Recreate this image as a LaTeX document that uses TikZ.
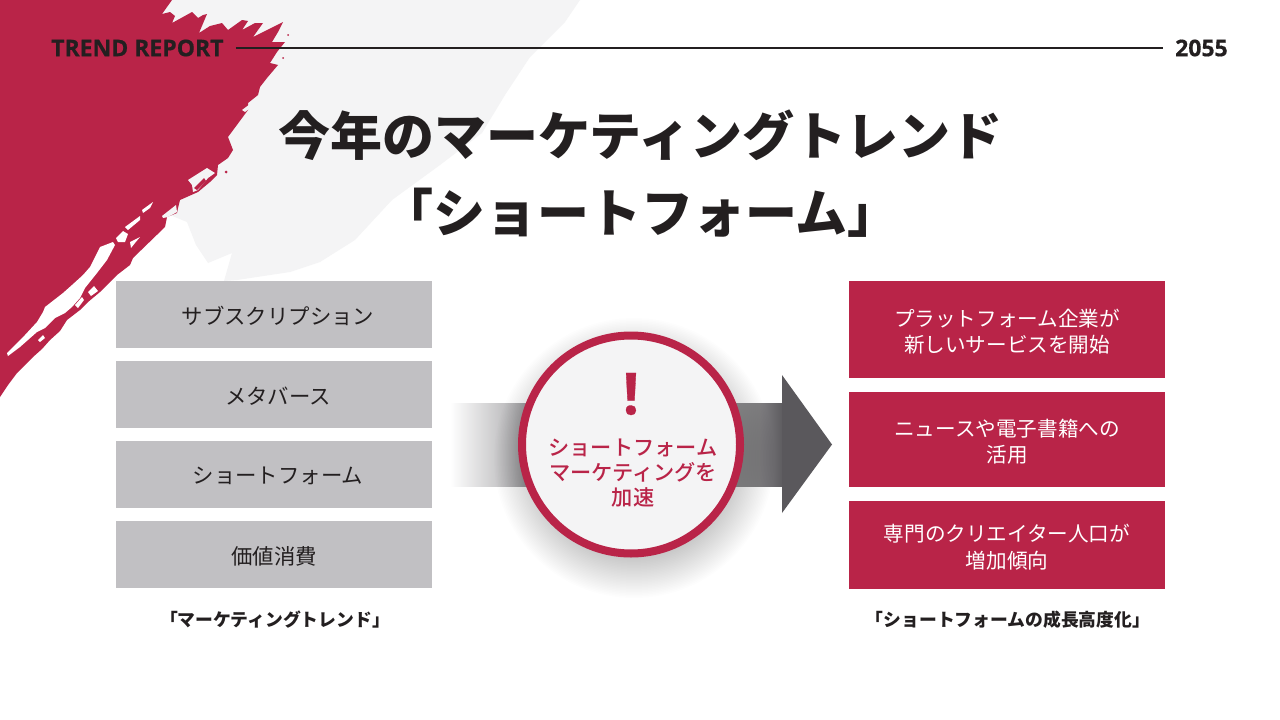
\documentclass[tikz,border=0pt]{standalone}
\usepackage{fontspec}
\newfontfamily\jp{Noto Sans CJK JP}
\newfontfamily\jpm{Noto Sans CJK JP Medium}
\newfontfamily\os[BoldFeatures={FakeBold=0.5}]{Open Sans}
\definecolor{brand}{HTML}{B92448}
\definecolor{ink}{HTML}{231F20}
\definecolor{graybox}{HTML}{C1C0C3}
\definecolor{brush}{HTML}{F4F4F5}
\definecolor{arrowdark}{HTML}{5A585C}
\tikzset{
  graycell/.style={fill=graybox,draw=none,minimum width=316pt,minimum height=67pt,inner sep=0pt},
  graylabel/.style={text=ink,inner sep=0pt,yshift=-1.5pt,font=\jp\fontsize{21.4}{26}\selectfont},
  redcell/.style={fill=brand,draw=none,minimum width=316pt,inner sep=0pt},
  redlabel/.style={text=white,align=center,inner sep=0pt,yshift=-2pt,font=\jp\fontsize{20.6}{26.5}\selectfont},
  caption/.style={text=ink,font=\jp\bfseries\fontsize{17.8}{22}\selectfont,inner sep=0pt},
  titletext/.style={text=ink,align=center,inner sep=0pt,font=\jp\bfseries\fontsize{52}{77}\selectfont},
  headertext/.style={text=ink,font=\os\bfseries\fontsize{23}{28}\selectfont,inner ysep=0pt,inner xsep=12pt},
  gap/.style={fill=brush,draw=none},
  hole/.style={fill=white,draw=none}
}
\begin{document}
\begin{tikzpicture}[x=1pt,y=-1pt]
\useasboundingbox (0,0) rectangle (1280,720);
\fill[white] (0,0) rectangle (1280,720);
% light brush stroke
\fill[brush] (160,0) -- (580,0) -- (565,22) -- (530,57) -- (505,95) -- (482,133) -- (440,165) -- (392,200) -- (355,240) -- (320,262) -- (290,272) -- (237,280) -- (224,281) -- (232,253) -- (208,263) -- (196,245) -- (187,222) -- (170,215) -- cycle;
% red brush stroke
\fill[brand] (0,0) -- (172,0) -- (162,14) -- (170,12) -- (175,16) -- (172,23) -- (183,17) -- (192,12) -- (198,18) -- (203,15) -- (207,14) -- (199,33) -- (210,26) -- (222,23) -- (228,30) -- (242,20) -- (248,21) -- (242,30) -- (255,23) -- (263,23) -- (253,37) -- (267,30) -- (283,22) -- (278,32) -- (272,42) -- (285,42) -- (277,52) -- (270,63) -- (278,65) -- (267,78) -- (260,87) -- (258,95) -- (248,103) -- (248,110) -- (228,137) -- (233,150) -- (228,158) -- (218,165) -- (217,175) -- (210,182) -- (198,192) -- (180,200) -- (178,208) -- (177,213) -- (167,217) -- (165,227) -- (133,258) -- (130,265) -- (117,275) -- (100,292) -- (88,302) -- (80,310) -- (67,320) -- (60,331) -- (50,340) -- (42,349) -- (33,357) -- (17,373) -- (8,385) -- (0,397) -- cycle;
% gaps in the brush
\fill[gap] (242,110) -- (262,95) -- (257,103) -- (245,112) -- cycle;
\fill[gap] (188,180) -- (207,168) -- (215,173) -- (208,178) -- (198,190) -- (193,192) -- (192,185) -- cycle;
\fill[gap] (162,216) -- (176,205) -- (177,212) -- (168,217) -- (163,218) -- cycle;
\fill[hole] (142,210) -- (153,202) -- (150,208) -- (143,213) -- cycle;
\fill[hole] (125,227) -- (140,216) -- (140,220) -- (128,230) -- cycle;
\fill[hole] (116,238) -- (123,231) -- (128,234) -- (125,242) -- (118,242) -- cycle;
\fill[hole] (130,242) -- (140,237) -- (135,243) -- (131,248) -- cycle;
\fill[hole] (100,247) -- (113,242) -- (115,245) -- (107,260) -- (97,273) -- (85,288) -- (80,298) -- (72,307) -- (65,313) -- (55,318) -- (45,328) -- (37,332) -- (20,347) -- (8,356) -- (7,353) -- (15,345) -- (25,335) -- (37,322) -- (43,312) -- (45,307) -- (63,293) -- (72,285) -- (83,275) -- (90,267) -- cycle;
\fill[hole] (75,305) -- (82,297) -- (84,300) -- (78,308) -- cycle;
\fill[hole] (88,292) -- (94,286) -- (98,291) -- (91,296) -- cycle;
\fill[hole] (38,340) -- (43,335) -- (45,338) -- (40,342) -- cycle;
\fill[brand] (194,188) -- (204,178) -- (206,181) -- (197,190) -- cycle;
\fill[brand] (226,172) circle (1.5);
\fill[brand] (288,35) circle (1);
\fill[brand] (283,58) circle (1);
% header
\node[headertext,anchor=west] (trend) at (39,48) {TREND REPORT};
\node[headertext,anchor=west] (year) at (1163,48) {2055};
\draw[ink,line width=1.8pt] (trend.east) -- (year.west);
% title
\node[titletext] (title) at (640.5,173.5) {今年のマーケティングトレンド\\「ショートフォーム」};
% left column
\node[graycell] (a1) at (274,314.5) {};
\node[graylabel,xshift=4pt] (a1t) at (a1) {サブスクリプション};
\node[graycell] (a2) at (274,394.5) {};
\node[graylabel,xshift=4pt] (a2t) at (a2) {メタバース};
\node[graycell] (a3) at (274,474.5) {};
\node[graylabel,xshift=4pt] (a3t) at (a3) {ショートフォーム};
\node[graycell] (a4) at (274,554.5) {};
\node[graylabel] (a4t) at (a4) {価値消費};
\node[caption] (capl) at (275,620) {「マーケティングトレンド」};
% arrow
\shade[left color=white,right color=graybox!85!black,draw=none] (450,403) rectangle (530,486);
\shade[left color=graybox!85!black,right color=arrowdark,draw=none] (735,403) rectangle (785,486);
\fill[arrowdark] (782,375) -- (832,444.5) -- (782,513) -- cycle;
% circle shadow
\foreach \i in {1,...,30}{
  \pgfmathsetmacro{\r}{95+1.5*\i}
  \fill[black,opacity=0.009] (634,458) circle (\r);
}
\node[circle,draw=brand,line width=8pt,fill=brush,minimum size=218pt,inner sep=0pt] (hub) at (631,444.5) {};
\node[text=brand,inner sep=0pt,font=\os\bfseries\fontsize{58}{58}\selectfont] (bang) at (631,394) {!};
\node[text=brand,align=center,inner sep=0pt,font=\jpm\fontsize{21.2}{25}\selectfont] (hubtext) at (633,473.5) {ショートフォーム\\マーケティングを\\加速};
% right column
\node[redcell,minimum height=97pt] (b1) at (1007,329.5) {};
\node[redlabel] (b1t) at (b1) {プラットフォーム企業が\\新しいサービスを開始};
\node[redcell,minimum height=95pt] (b2) at (1007,439.5) {};
\node[redlabel] (b2t) at (b2) {ニュースや電子書籍への\\活用};
\node[redcell,minimum height=88pt] (b3) at (1007,545) {};
\node[redlabel] (b3t) at (b3) {専門のクリエイター人口が\\増加傾向};
\node[caption] (capr) at (1008,620) {「ショートフォームの成長高度化」};
\end{tikzpicture}
\end{document}
